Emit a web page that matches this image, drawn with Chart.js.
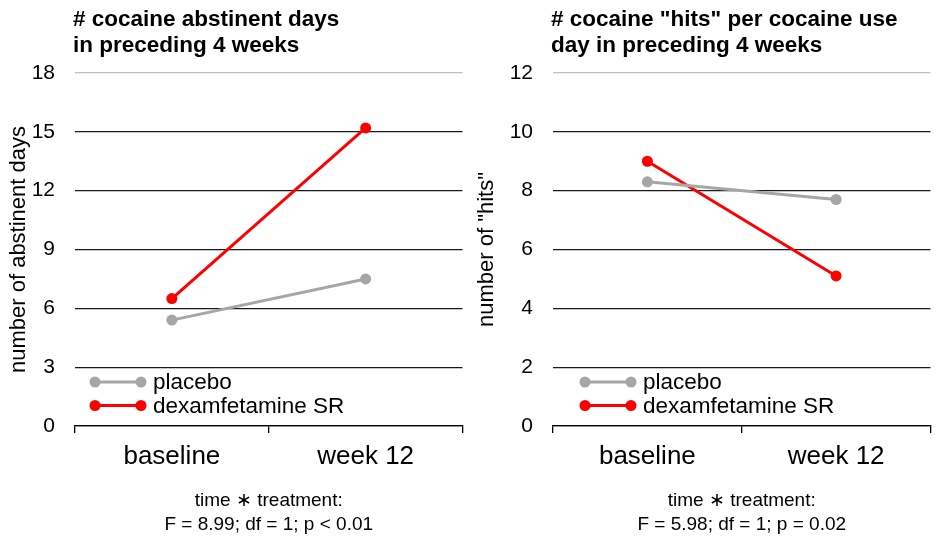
<!DOCTYPE html>
<html>
<head>
<meta charset="utf-8">
<script src="https://cdn.jsdelivr.net/npm/chart.js@4.4.0/dist/chart.umd.min.js"></script>
<style>
  body { margin: 0; background: #fff; }
  .panel { position: absolute; top: 0; width: 468px; height: 537px; }
</style>
</head>
<body>
<div class="panel" style="left:0"><canvas id="chart_dias"></canvas></div>
<div class="panel" style="left:468px"><canvas id="chart_hits"></canvas></div>
<script>
// Dados
const tempos = ['baseline', 'week 12'];
const grupos = ['placebo', 'dexamfetamine SR'];
const cores = ['#a6a6a6', '#ff0000'];

const diasPlacebo = [5.4, 7.5];
const diasDexa = [6.5, 15.2];

const hitsPlacebo = [8.3, 7.7];
const hitsDexa = [9.0, 5.1];

const FONTE = "'Liberation Sans', Arial, sans-serif";

// Plugin que desenha título, título do eixo y, legenda e a estatística embaixo
const extras = {
  id: 'extras',
  afterDraw(chart, args, opts) {
    const c = chart.ctx;
    const a = chart.chartArea;
    c.save();
    c.fillStyle = '#000';
    c.textAlign = 'left';
    c.textBaseline = 'alphabetic';
    c.font = 'bold 22.5px ' + FONTE;
    opts.titulo.forEach((linha, i) => c.fillText(linha, a.left - 2, 26 + i * 26));

    // título do eixo y (girado)
    c.save();
    c.translate(25, (a.top + a.bottom) / 2);
    c.rotate(-Math.PI / 2);
    c.textAlign = 'center';
    c.font = '22px ' + FONTE;
    c.fillText(opts.tituloY, 0, 0);
    c.restore();

    // legenda
    grupos.forEach((g, i) => {
      const y = opts.legY + i * 23.5;
      const x0 = a.left + opts.legX;
      c.strokeStyle = cores[i];
      c.fillStyle = cores[i];
      c.lineWidth = 3;
      c.beginPath(); c.moveTo(x0, y); c.lineTo(x0 + 46, y); c.stroke();
      [x0, x0 + 46].forEach(px => { c.beginPath(); c.arc(px, y, 5.5, 0, Math.PI * 2); c.fill(); });
      c.fillStyle = '#000';
      c.font = '22.5px ' + FONTE;
      c.textBaseline = 'middle';
      c.fillText(g, x0 + 58, y + 1);
    });

    // estatística
    const cx = (a.left + a.right) / 2;
    c.textAlign = 'center';
    c.textBaseline = 'middle';
    c.font = '19px ' + FONTE;
    opts.stats.forEach((linha, i) => c.fillText(linha, cx, 501 + i * 24));
    c.restore();
  }
};

function criarGrafico(id, dadosPlacebo, dadosDexa, opc) {
  return new Chart(document.getElementById(id), {
    type: 'line',
    data: {
      labels: tempos,
      datasets: [
        { label: grupos[0], data: dadosPlacebo, borderColor: cores[0], backgroundColor: cores[0], borderWidth: 3, pointRadius: 5.5, pointBorderWidth: 0 },
        { label: grupos[1], data: dadosDexa, borderColor: cores[1], backgroundColor: cores[1], borderWidth: 3, pointRadius: 5.5, pointBorderWidth: 0 }
      ]
    },
    options: {
      responsive: true,
      maintainAspectRatio: false,
      animation: false,
      layout: { padding: { top: 73, right: opc.padDireita, bottom: 0, left: 0 } },
      scales: {
        x: {
          offset: true,
          grid: { offset: true, drawOnChartArea: false, drawTicks: true, tickLength: 7, color: '#000', lineWidth: 1.3 },
          border: { color: '#000', width: 1.3 },
          ticks: { color: '#000', font: { family: FONTE, size: 26 }, padding: 8 },
          afterFit(s) { s.height = 111; }
        },
        y: {
          min: 0,
          max: opc.max,
          ticks: { stepSize: opc.passo, color: '#000', font: { family: FONTE, size: 21 }, padding: 20 },
          grid: {
            drawTicks: false,
            color: ctx => (ctx.tick && ctx.tick.value === opc.max) ? '#c0c0c0' : '#1a1a1a',
            lineWidth: 1.3
          },
          border: { display: false },
          title: { display: false },
          afterFit(s) { s.width = opc.larguraY; }
        }
      },
      plugins: {
        legend: { display: false },
        tooltip: { enabled: false },
        extras: {
          titulo: opc.titulo, stats: opc.stats, tituloY: opc.tituloY,
          legX: opc.legX, legY: 382
        }
      }
    },
    plugins: [extras]
  });
}

criarGrafico('chart_dias', diasPlacebo, diasDexa, {
  max: 18, passo: 3, larguraY: 75, padDireita: 5, legX: 20,
  tituloY: 'number of abstinent days',
  titulo: ['# cocaine abstinent days', 'in preceding 4 weeks'],
  stats: ['time \u2217 treatment:', 'F = 8.99; df = 1; p < 0.01']
});

criarGrafico('chart_hits', hitsPlacebo, hitsDexa, {
  max: 12, passo: 2, larguraY: 85, padDireita: 0, legX: 32,
  tituloY: 'number of "hits"',
  titulo: ['# cocaine "hits" per cocaine use', 'day in preceding 4 weeks'],
  stats: ['time \u2217 treatment:', 'F = 5.98; df = 1; p = 0.02']
});
</script>
</body>
</html>
